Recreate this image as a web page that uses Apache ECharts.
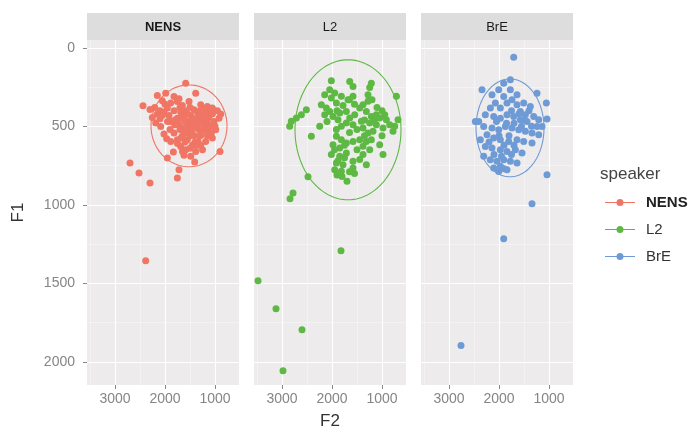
<!DOCTYPE html>
<html>
<head>
<meta charset="utf-8">
<script src="https://cdn.jsdelivr.net/npm/echarts@6/dist/echarts.min.js"></script>
<style>html,body{margin:0;padding:0;background:#fff}#c{width:695px;height:429px}</style>
</head>
<body>
<div id="c"></div>
<script>
// ---- data (F2, F1) ----
const speakers = ['NENS', 'L2', 'BrE'];
const colors = ['#F07564', '#5DB944', '#6E9BD6'];

const nensPoints = [
 [1586,225],[2153,303],[1986,289],[1820,310],[1720,325],[1386,289],[1520,342],[1653,367],[1753,342],[1886,352],
 [2053,337],[1286,363],[1153,373],[1053,384],[953,401],[886,422],[1186,416],[2440,369],[2300,392],[2206,380],
 [2153,422],[2253,443],[2100,452],[2020,409],[1920,431],[2186,479],[2086,501],[1886,469],[1806,490],[1753,448],
 [1686,409],[1620,437],[1553,469],[1486,431],[1420,395],[1353,409],[1273,448],[1220,388],[1120,443],[1020,469],
 [920,448],[1720,490],[1633,511],[1520,501],[1386,490],[1320,522],[1220,490],[1086,501],[986,522],[1820,401],
 [1953,384],[1453,458],[1320,469],[1186,458],[1820,543],[1753,585],[1673,571],[1553,537],[1486,515],[1420,558],
 [1340,596],[1273,554],[1206,522],[1073,543],[1453,621],[1386,660],[1286,621],[1886,596],[1966,579],[1833,664],
 [1620,685],[1486,691],[1406,727],[1553,585],[1186,596],[1053,575],[2020,549],[1686,628],[1586,649],[900,660],
 [1720,776],[1753,829],[1953,702],[2700,734],[2520,797],[2300,861],[2386,1357],
 [1450,480],[1350,440],[1250,420],[1150,480],[1600,470],[1700,450],[1500,560],[1600,600],[1300,560],
 [1900,520],[1800,460],[1700,520],[1650,560],[1550,420],[1450,520],[1350,500],[1250,470],[1150,520],[1050,420],
 [1000,500],[1700,380],[1600,400],[1500,380],[1400,460],[1300,400],[1200,440],[1100,400],[1950,470],[2050,430],
 [1750,610],[1650,660],[1500,640],[1400,600],[1250,650],[1600,540],[1350,620],[1150,560],[2100,400],[2000,360]
];

const l2Points = [
 [2013,210],[1646,214],[1580,246],[1246,252],[1213,225],[2046,267],[1946,288],[2146,299],[1813,309],[1680,331],
 [1280,299],[1580,309],[712,309],[2013,320],[1913,352],[1780,367],[2513,394],[2613,426],[2713,447],[2813,468],
 [2846,500],[2246,500],[2413,564],[2213,362],[2113,384],[2146,426],[2046,405],[1980,437],[1880,458],[1846,415],
 [1713,405],[1646,447],[1546,426],[1446,384],[1380,362],[1280,341],[1313,405],[1213,437],[1113,426],[1046,447],
 [946,426],[913,458],[846,490],[746,500],[680,458],[780,532],[980,511],[1113,490],[1246,479],[1413,468],
 [1580,490],[1713,479],[1813,500],[1913,521],[1180,532],[1280,543],[1380,511],[1913,564],[1813,585],[1980,617],
 [1846,638],[1713,606],[1580,596],[1446,585],[1313,596],[1213,585],[1380,627],[1246,649],[1046,617],[980,680],
 [2013,680],[1846,691],[1713,670],[1913,733],[1780,744],[1946,776],[1813,786],[1580,723],[1446,712],[1380,680],
 [1313,744],[1580,765],[1500,520],[1650,540],[1750,620],[1950,650],[1880,720],[1350,560],[1150,460],[1000,560],
 [1800,820],[1700,850],[1550,800],[1900,810],[1650,790],[1750,700],[1500,650],[1100,380],[1000,400],[1200,330],
 [1900,400],[2100,470],[1550,360],[1350,460],[1650,330],
 [2480,822],[2780,924],[2840,962],[1820,1293],[3480,1484],[3120,1663],[2600,1796],[2980,2058]
];

const brePoints = [
 [2140,299],[2006,267],[1906,310],[2073,352],[2173,384],[1973,384],[1840,352],[1740,331],[1640,363],[1573,405],
 [1473,426],[1373,373],[1306,437],[1206,458],[1140,501],[1440,469],[1573,458],[1706,437],[1840,426],[1973,448],
 [2106,437],[2273,426],[2406,469],[2473,469],[2306,501],[2140,511],[2006,522],[1873,501],[1740,511],[1606,522],
 [1473,532],[1340,543],[1206,554],[2240,554],[2373,585],[2106,575],[1973,585],[1806,596],[1640,585],[1506,596],
 [1340,607],[2273,628],[2140,638],[1973,649],[1840,660],[1673,649],[1540,670],[2306,691],[2173,713],[2040,723],
 [1906,713],[1773,723],[1640,734],[2106,766],[1973,755],[1840,776],[2006,787],[1773,267],[1640,299],[1906,225],
 [1506,352],[1240,501],[1700,480],[1800,560],[1900,620],[1550,500],[1400,400],[2050,470],
 [1600,420],[1750,400],[1850,480],[2000,560],[2200,600],[1700,620],[1500,460],[1350,500],[1950,690],[1750,680],
 [2100,680],[1900,770],
 [1706,60],[1773,204],[2340,267],[1240,289],[1053,352],[1040,454],[1040,808],[1340,994],[1906,1217],[2760,1896]
];

// ellipse parameters per speaker (centre and half-axes, in F2/F1 units)
const ellipseCenterF2 = [1520, 1680, 1780];
const ellipseCenterF1 = [497, 522, 510];
const ellipseRadiusF2 = [760, 1060, 680];
const ellipseRadiusF1 = [261, 446, 312];

// axis ticks
const f2Ticks = [1000, 2000, 3000];
const f2Minor = [1500, 2500, 3500];
const f1Ticks = [0, 500, 1000, 1500, 2000];
const f1Minor = [250, 750, 1250, 1750];
const f2Range = [520, 3560];
const f1Range = [-50, 2148];

// ---- chart ----
const FONT = 'Liberation Sans, Arial, sans-serif';
const pointsBySpeaker = [nensPoints, l2Points, brePoints];
const panelLeft = [87, 254, 421];
const panelW = 152, panelTop = 40, panelH = 345;

function ellipse(i) {
  const pts = [];
  for (let k = 0; k <= 120; k++) {
    const t = k / 120 * 2 * Math.PI;
    pts.push([ellipseCenterF2[i] + ellipseRadiusF2[i] * Math.cos(t),
              ellipseCenterF1[i] + ellipseRadiusF1[i] * Math.sin(t)]);
  }
  return pts;
}

const plain = v => String(v);
const grid = [], xAxis = [], yAxis = [], series = [], graphic = [];
speakers.forEach((s, i) => {
  grid.push({left: panelLeft[i], top: panelTop, width: panelW, height: panelH,
    outerBoundsMode: 'none', containLabel: false,
    show: true, backgroundColor: '#EDEBEB', borderWidth: 0});
  // major x
  xAxis.push({type: 'value', gridIndex: i, inverse: true, min: f2Range[0], max: f2Range[1], position: 'bottom',
    name: i === 1 ? 'F2' : ' ', nameLocation: 'middle', nameGap: 28,
    nameTextStyle: {fontFamily: FONT, fontSize: 17, color: '#333'},
    axisLine: {show: false, onZero: false},
    axisTick: {show: true, length: 4, customValues: f2Ticks, lineStyle: {color: '#888', width: 1}},
    axisLabel: {show: true, customValues: f2Ticks, formatter: plain, margin: 7, fontFamily: FONT, fontSize: 14, color: '#858585'},
    splitLine: {show: true, lineStyle: {color: '#FFFFFF', width: 1.2}}});
  // minor x
  xAxis.push({type: 'value', gridIndex: i, inverse: true, min: f2Range[0], max: f2Range[1], position: 'top',
    axisLine: {show: false, onZero: false}, axisTick: {show: false, customValues: f2Minor},
    axisLabel: {show: false, customValues: f2Minor},
    splitLine: {show: true, lineStyle: {color: '#F8F7F7', width: 0.6}}});
  // major y
  yAxis.push({type: 'value', gridIndex: i, inverse: true, min: f1Range[0], max: f1Range[1], position: 'left',
    name: i === 0 ? 'F1' : ' ', nameLocation: 'middle', nameGap: 60,
    nameTextStyle: {fontFamily: FONT, fontSize: 17, color: '#333'},
    axisLine: {show: false, onZero: false},
    axisTick: {show: i === 0, length: 4, customValues: f1Ticks, lineStyle: {color: '#888', width: 1}},
    axisLabel: {show: i === 0, customValues: f1Ticks, formatter: plain, margin: 12, fontFamily: FONT, fontSize: 14, color: '#858585'},
    splitLine: {show: true, lineStyle: {color: '#FFFFFF', width: 1.2}}});
  // minor y
  yAxis.push({type: 'value', gridIndex: i, inverse: true, min: f1Range[0], max: f1Range[1], position: 'right',
    axisLine: {show: false, onZero: false}, axisTick: {show: false, customValues: f1Minor},
    axisLabel: {show: false, customValues: f1Minor},
    splitLine: {show: true, lineStyle: {color: '#F8F7F7', width: 0.6}}});

  series.push({name: s + ' ellipse', type: 'line', xAxisIndex: 2 * i, yAxisIndex: 2 * i,
    data: ellipse(i), symbol: 'none', showSymbol: false, silent: true, z: 2,
    lineStyle: {color: colors[i], width: 1.1}, itemStyle: {color: colors[i]}});
  series.push({name: s, type: 'scatter', xAxisIndex: 2 * i, yAxisIndex: 2 * i,
    data: pointsBySpeaker[i], symbol: 'circle', symbolSize: 7, z: 3,
    itemStyle: {color: colors[i], opacity: 1}});

  graphic.push({type: 'rect', shape: {x: panelLeft[i], y: 13, width: panelW, height: 27},
    style: {fill: '#DEDDDD'}, silent: true});
  graphic.push({type: 'text', x: panelLeft[i] + panelW / 2, y: 27,
    style: {text: s, textAlign: 'center', textVerticalAlign: 'middle', fill: '#1A1A1A',
      font: (i === 0 ? 'bold ' : '') + '13px ' + FONT}, silent: true});
});

graphic.push({type: 'text', x: 600, y: 174,
  style: {text: 'speaker', textAlign: 'left', textVerticalAlign: 'middle', fill: '#444', font: '17px ' + FONT}});

const legendIcon = 'path://M0,3.5 L30,3.5 L30,4.5 L0,4.5 Z M18.5,4 A3.5,3.5 0 1 1 11.5,4 A3.5,3.5 0 1 1 18.5,4 Z';

const chart = echarts.init(document.getElementById('c'), null, {renderer: 'canvas'});
chart.setOption({
  animation: false,
  backgroundColor: '#FFFFFF',
  grid, xAxis, yAxis, series, graphic,
  legend: {
    data: speakers.map(s => ({name: s, icon: legendIcon})),
    orient: 'vertical', left: 605, top: 195, padding: 0,
    itemWidth: 30, itemHeight: 7, itemGap: 12,
    selectedMode: false,
    formatter: n => n === 'NENS' ? '{b|NENS}' : n,
    textStyle: {fontFamily: FONT, fontSize: 15, color: '#333', padding: [0, 0, 0, 6],
      rich: {b: {fontWeight: 'bold', fontFamily: FONT, fontSize: 15, color: '#222'}}}
  }
});
</script>
</body>
</html>
